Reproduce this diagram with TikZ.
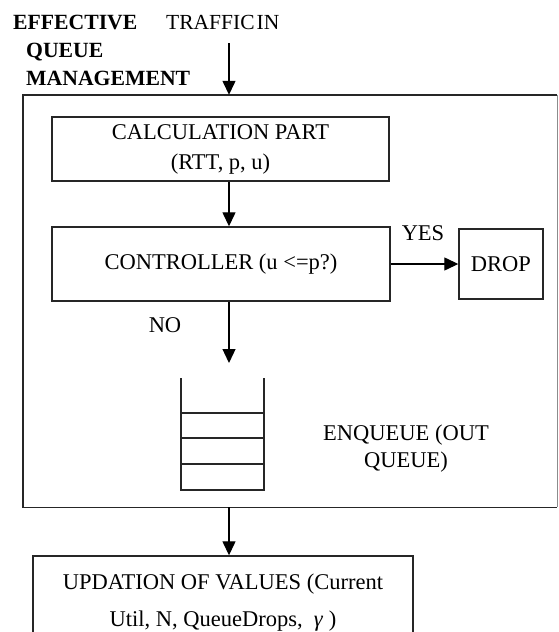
\documentclass[tikz,border=0pt]{standalone}
\usepackage{fontspec}
\setmainfont{Liberation Serif}
\usetikzlibrary{arrows.meta}
\begin{document}
\begin{tikzpicture}[x=1pt,y=-1pt,
  every node/.append style={font=\fontsize{22.5}{30}\selectfont},
  box/.style={draw=black!85, line width=1.4pt, inner sep=0pt, align=center},
  arr/.style={draw=black, line width=1.3pt, -{Triangle[width=13pt,length=14pt]}},
  lbl/.style={inner sep=0pt, anchor=base west},
  head/.style={lbl, font=\fontsize{21.7}{30}\selectfont\bfseries},
  qline/.style={draw=black!85, line width=1.3pt}]
\clip (0,0) rectangle (558,632);
\fill[white] (0,0) rectangle (558,632);
% headings
\node[head] (eff) at (13,29.5) {EFFECTIVE};
\node[head] (que) at (26,57) {QUEUE};
\node[head] (man) at (26,85) {MANAGEMENT};
\node[lbl, font=\fontsize{21.5}{30}\selectfont] (traffic) at (166,29.5) {TRAFFIC\hspace{2pt}IN};
% outer box
\node[inner sep=0pt, minimum width=534pt, minimum height=412pt] (eqm) at (290,301) {};
\draw[draw=black!85, line width=1.4pt] (eqm.north east) -- (eqm.north west) -- (eqm.south west) -- (eqm.south east);
\draw[draw=black!45, line width=0.8pt] (eqm.north east) -- (eqm.south east);
% boxes
\node[box, minimum width=337pt, minimum height=64pt] (calc) at (220.5,149) {CALCULATION PART\\(RTT, p, u)};
\node[box, minimum width=338pt, minimum height=74pt] (ctrl) at (221,264) {CONTROLLER (u <=p?)};
\node[box, minimum width=84pt, minimum height=70pt] (drop) at (501,264) {DROP};
\node[inner sep=0pt] (yes) at (423,233) {YES};
\node[inner sep=0pt] (no) at (165,325) {NO};
% queue
\draw[qline] (181,378) -- (181,490) -- (264,490) -- (264,378);
\draw[qline] (181,413) -- (264,413);
\draw[qline] (181,438) -- (264,438);
\draw[qline] (181,464) -- (264,464);
\node[inner sep=0pt, align=center, font=\fontsize{22.5}{27}\selectfont] (enq) at (406,449) {ENQUEUE (OUT\\QUEUE)};
% update box
\node[box, minimum width=380pt, minimum height=94pt, font=\fontsize{22.5}{37}\selectfont] (upd) at (223,603) {UPDATION OF VALUES (Current\\Util, N, QueueDrops, \ \textit{γ} )};
% connectors
\coordinate (tin) at (229,43);
\coordinate (qin) at (229,363);
\draw[arr] (tin) -- (tin |- eqm.north);
\draw[arr] (calc.south -| tin) -- (ctrl.north -| tin);
\draw[arr] (ctrl.south -| qin) -- (qin);
\draw[arr] (ctrl.east) -- (drop.west);
\draw[arr] (eqm.south -| tin) -- (upd.north -| tin);
\end{tikzpicture}
\end{document}
